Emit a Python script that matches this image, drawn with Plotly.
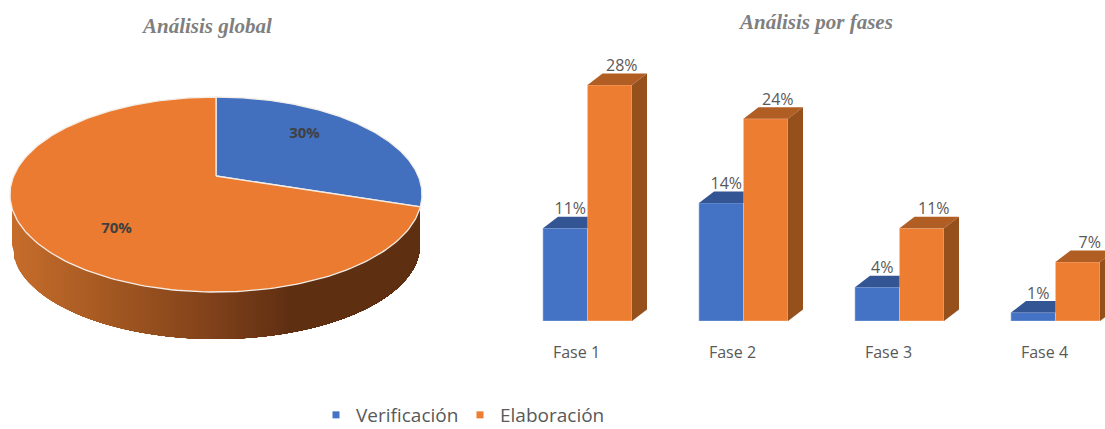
import numpy as np
import plotly.graph_objects as go

# ---- data ----
series_names = ["Verificación", "Elaboración"]
global_values = [30, 70]
phases = ["Fase 1", "Fase 2", "Fase 3", "Fase 4"]
verificacion = [11, 14, 4, 1]
elaboracion = [28, 24, 11, 7]

# ---- style ----
BLUE, ORANGE = "#4472C4", "#ED7D31"
PIE_BLUE, PIE_ORANGE = "#4270BF", "#EA7B30"
BLUE_TOP, ORANGE_TOP, ORANGE_SIDE = "#335593", "#B15E24", "#96501C"
TXT = "#595959"
W, H = 1105, 429

fig = go.Figure()

# ---- 3D pie: projective view of a disc, in pixel-scaled axes ----
CX, CY, RY = 216.0, 194.5, 97.5
K = 0.19
APEX_RISE = 18.5
RX = 206.0 * np.sqrt(1 - K**2)


def disc(theta):
    d = 1 + K * np.cos(theta)
    return CX + RX * np.sin(theta) / d, CY - (RY * np.cos(theta) + APEX_RISE) / d


# rim: painted left to right, each strip running on to the right end, so no seams
RIM_CY, RIM_RX, RIM_RY = 245.0, 204.0, 94.0
stops_x = [12, 100, 200, 290, 420]
stops_rgb = np.array([[198, 108, 43], [166, 90, 34], [132, 67, 27], [95, 47, 18], [95, 47, 18]])
for x0 in np.arange(12, 420, 2.0):
    xs = np.linspace(x0, CX + RIM_RX - 0.01, 70)
    ys = RIM_CY + RIM_RY * np.sqrt(np.clip(1 - ((xs - CX) / RIM_RX) ** 2, 0, 1))
    rgb = [int(round(np.interp(x0, stops_x, stops_rgb[:, c]))) for c in range(3)]
    fig.add_trace(go.Scatter(
        x=np.r_[xs, xs[-1], x0], y=np.r_[ys, CY, CY], mode="lines", fill="toself",
        line=dict(width=0), fillcolor=f"rgb{tuple(rgb)}", hoverinfo="skip", showlegend=False,
        xaxis="x", yaxis="y"))

# top faces, from the values
edges = np.cumsum([0] + global_values) / sum(global_values) * 2 * np.pi
for a, b, color, name in zip(edges[:-1], edges[1:], [PIE_BLUE, PIE_ORANGE], series_names):
    th = np.linspace(a, b, 200)
    px, py = disc(th)
    apex_x, apex_y = CX, CY - APEX_RISE
    fig.add_trace(go.Scatter(
        x=np.r_[apex_x, px, apex_x], y=np.r_[apex_y, py, apex_y], mode="lines", fill="toself",
        fillcolor=color, line=dict(color="#F4EDE6", width=1.3), name=name, showlegend=False,
        xaxis="x", yaxis="y"))

fig.add_trace(go.Scatter(
    x=[304.5, 116.5], y=[134, 229], mode="text",
    text=[f"{v}%" for v in global_values],
    textfont=dict(family="Open Sans, sans-serif", size=15, color="#404040", weight="bold"),
    showlegend=False, hoverinfo="skip", xaxis="x", yaxis="y"))

# ---- 3D bars ----
SPACING = 156.0          # px per category
PX_PER_PCT = 8.43
BAR = 44.5 / SPACING
DX = 15.0 / SPACING
DY = 11.5 / PX_PER_PCT
idx = list(range(len(phases)))

fig.add_trace(go.Bar(x=idx, y=verificacion, width=BAR, offset=-BAR, marker=dict(color=BLUE, line=dict(color="#9DB6E4", width=0.6)),
                     name=series_names[0], showlegend=False, xaxis="x2", yaxis="y2"))
fig.add_trace(go.Bar(x=idx, y=elaboracion, width=BAR, offset=0, marker=dict(color=ORANGE, line=dict(color="#F8C6A2", width=0.6)),
                     name=series_names[1], showlegend=False, xaxis="x2", yaxis="y2"))

for i, v, e in zip(idx, verificacion, elaboracion):
    # blue top
    fig.add_trace(go.Scatter(
        x=[i - BAR, i - BAR + DX, i, i, i - BAR], y=[v, v + DY, v + DY, v, v], mode="lines", fill="toself",
        fillcolor=BLUE_TOP, line=dict(width=0), hoverinfo="skip", showlegend=False, xaxis="x2", yaxis="y2"))
    # orange top
    fig.add_trace(go.Scatter(
        x=[i, i + DX, i + BAR + DX, i + BAR, i], y=[e, e + DY, e + DY, e, e], mode="lines", fill="toself",
        fillcolor=ORANGE_TOP, line=dict(width=0), hoverinfo="skip", showlegend=False, xaxis="x2", yaxis="y2"))
    # orange side
    fig.add_trace(go.Scatter(
        x=[i + BAR, i + BAR + DX, i + BAR + DX, i + BAR, i + BAR], y=[0, DY, e + DY, e, 0], mode="lines", fill="toself",
        fillcolor=ORANGE_SIDE, line=dict(width=0), hoverinfo="skip", showlegend=False, xaxis="x2", yaxis="y2"))

label_font = dict(family="Open Sans, sans-serif", size=16, color=TXT)
fig.add_trace(go.Scatter(
    x=[i - BAR / 2 + 5 / SPACING for i in idx], y=[v + DY - 0.2 for v in verificacion], mode="text",
    text=[f"{v}%" for v in verificacion], textposition="top center", textfont=label_font,
    showlegend=False, hoverinfo="skip", xaxis="x2", yaxis="y2"))
fig.add_trace(go.Scatter(
    x=[i + BAR / 2 + 12 / SPACING for i in idx], y=[e + DY - 0.2 for e in elaboracion], mode="text",
    text=[f"{e}%" for e in elaboracion], textposition="top center", textfont=label_font,
    showlegend=False, hoverinfo="skip", xaxis="x2", yaxis="y2", cliponaxis=False))

# legend entries
for name, color in zip(series_names, [BLUE, ORANGE]):
    fig.add_trace(go.Scatter(x=[None], y=[None], mode="markers", name=name,
                             marker=dict(symbol="square", size=7, color=color), xaxis="x2", yaxis="y2"))

LEFT = 480.0
TOP = 40.0
BASE = 321.0
J0 = 587.5
fig.update_layout(
    width=W, height=H, margin=dict(l=0, r=0, t=0, b=0, autoexpand=False),
    paper_bgcolor="white", plot_bgcolor="white", barmode="overlay",
    xaxis=dict(domain=[0, LEFT / W], range=[0, LEFT], visible=False),
    yaxis=dict(domain=[0, 1], range=[H, 0], visible=False),
    xaxis2=dict(domain=[LEFT / W, 1], range=[(LEFT - J0) / SPACING, (W - J0) / SPACING],
                tickmode="array", tickvals=[i - 11 / SPACING for i in idx], ticktext=phases,
                ticks="outside", ticklen=17, tickcolor="rgba(0,0,0,0)", showline=False, showgrid=False, zeroline=False,
                tickfont=label_font, anchor="y2", automargin=False),
    yaxis2=dict(domain=[(H - BASE) / H, (H - TOP) / H], range=[0, (BASE - TOP) / PX_PER_PCT], visible=False, anchor="x2"),
    showlegend=True,
    legend=dict(orientation="h", x=326 / W, xanchor="left", y=1 - 415 / H, yanchor="middle",
                font=dict(family="Open Sans, sans-serif", size=19, color=TXT), itemwidth=30, indentation=-10,
                entrywidth=109, entrywidthmode="pixels",
                bgcolor="rgba(0,0,0,0)"),
    annotations=[
        dict(text="<b><i>Análisis global</i></b>", x=206.5 / W, y=1 - 26 / H, xref="paper", yref="paper", showarrow=False,
             xanchor="center", yanchor="middle",
             font=dict(family="Liberation Serif, serif", size=21, color="#7F7F7F")),
        dict(text="<b><i>Análisis por fases</i></b>", x=815 / W, y=1 - 22 / H, xref="paper", yref="paper", showarrow=False,
             xanchor="center", yanchor="middle",
             font=dict(family="Liberation Serif, serif", size=21, color="#7F7F7F")),
    ],
)

fig.write_html("out.html", config={"displayModeBar": False}, post_script="document.body.style.margin='0';")
